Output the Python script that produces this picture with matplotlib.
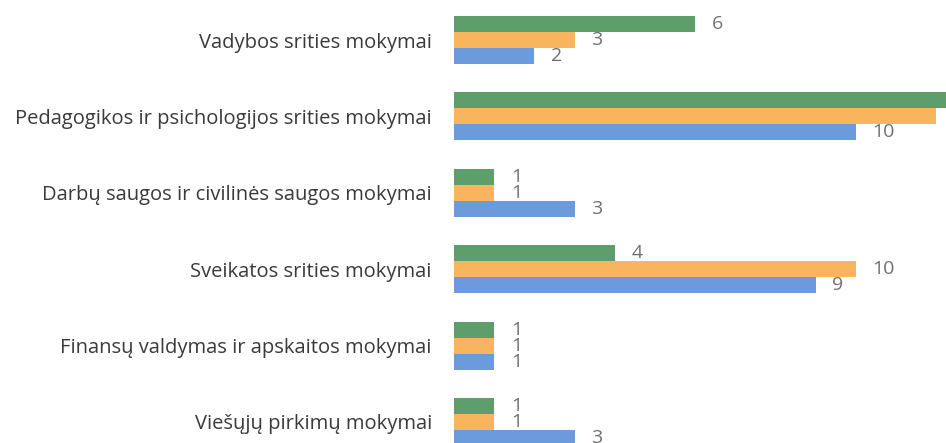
import matplotlib
matplotlib.use("Agg")
import matplotlib.pyplot as plt
import numpy as np

categories = [
    "Vadybos srities mokymai",
    "Pedagogikos ir psichologijos srities mokymai",
    "Darbų saugos ir civilinės saugos mokymai",
    "Sveikatos srities mokymai",
    "Finansų valdymas ir apskaitos mokymai",
    "Viešųjų pirkimų mokymai",
]
series_top = [6, 13, 1, 4, 1, 1]      # green
series_mid = [3, 12, 1, 10, 1, 1]     # orange
series_bot = [2, 10, 3, 9, 1, 3]      # blue

colors = {"top": "#5E9E6B", "mid": "#F8B55E", "bot": "#6B9BDD"}

fig = plt.figure(figsize=(9.46, 4.43), dpi=100)
ax = fig.add_axes([454 / 946, 0, 492 / 946, 1])

y = np.arange(len(categories))
h = 0.21
offsets = {"top": -h, "mid": 0.0, "bot": h}
data = {"top": series_top, "mid": series_mid, "bot": series_bot}

for key in ["bot", "mid", "top"]:
    vals = data[key]
    ax.barh(y + offsets[key], vals, height=h, color=colors[key], linewidth=0)
    for yi, v in zip(y, vals):
        ax.annotate(str(v), xy=(v, yi + offsets[key]), xytext=(12, 0),
                    textcoords="offset points", va="center", ha="left",
                    fontsize=14, color="#707070", family="Open Sans",
                    annotation_clip=False)

ax.set_xlim(0, 492 / 40.2)
ax.set_ylim(5.275, -0.524)
ax.set_yticks(y)
ax.set_yticklabels(categories, fontsize=14.5, color="#3A3A3A", family="Open Sans")
ax.tick_params(axis="y", length=0, pad=16)
ax.set_xticks([])
for s in ax.spines.values():
    s.set_visible(False)
ax.patch.set_alpha(0)

fig.savefig("out.png", dpi=100, facecolor="white")
